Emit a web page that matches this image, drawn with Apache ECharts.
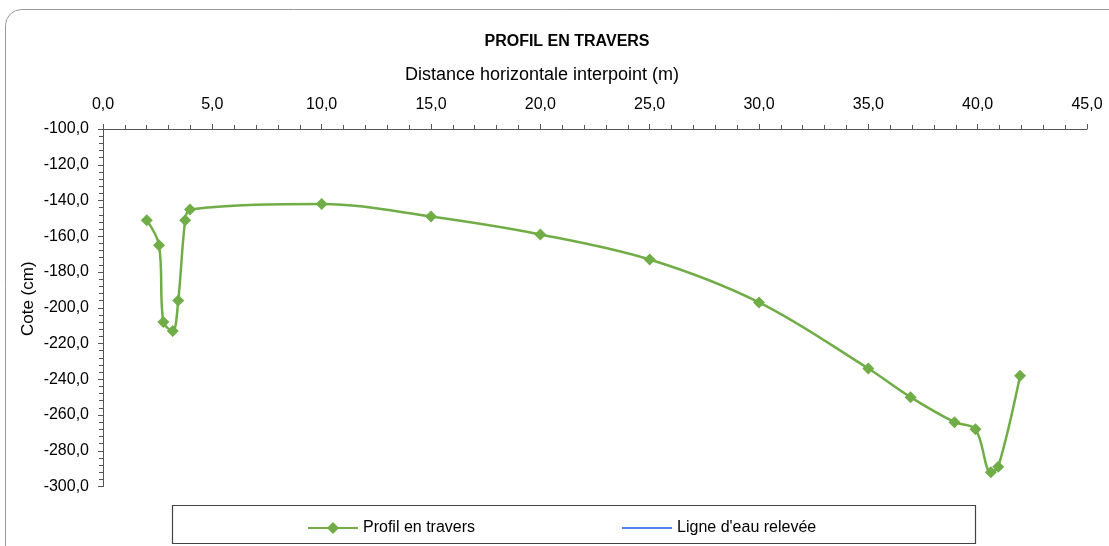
<!DOCTYPE html>
<html><head><meta charset="utf-8">
<script src="https://cdn.jsdelivr.net/npm/echarts@6/dist/echarts.min.js"></script>
<style>html,body{margin:0;padding:0;background:#fff}#c{width:1109px;height:546px}</style>
</head><body><div id="c"></div>
<script>
const distances = [2.0, 2.56, 2.76, 3.19, 3.44, 3.76, 3.98, 10.0, 15.0, 20.0, 25.0, 30.0, 35.0, 36.93, 38.94, 39.9, 40.6, 40.94, 41.94];
const cotes = [-151, -165, -208, -213, -196, -151, -145, -142, -149, -159, -173, -197, -234, -250, -264, -268, -292, -289, -238];
const ligneEau = [];
const seriesNames = ['Profil en travers', "Ligne d'eau relevée"];
const titleText = 'PROFIL EN TRAVERS';
const xName = 'Distance horizontale interpoint (m)';
const yName = 'Cote (cm)';

const font = 'Liberation Sans';
const chart = echarts.init(document.getElementById('c'));
chart.setOption({
  backgroundColor: '#fff',
  animation: false,
  textStyle: { fontFamily: font },
  title: { text: titleText, left: 562, textAlign: 'center', top: 29,
    textStyle: { fontSize: 16, fontWeight: 'bold', color: '#000', fontFamily: font } },
  graphic: [
    { type: 'rect', shape: { x: 5.5, y: 9.5, width: 1200, height: 700, r: 16 },
      style: { fill: 'none', stroke: '#9a9a9a', lineWidth: 1 }, silent: true, z: -1 },
    { type: 'rect', shape: { x: 172.5, y: 505.5, width: 803, height: 38 },
      style: { fill: 'none', stroke: '#444', lineWidth: 1.2 }, silent: true }
  ],
  legend: {
    left: 302, top: 515, itemWidth: 50, itemHeight: 15, itemGap: 146,
    textStyle: { fontSize: 16, color: '#000', fontFamily: font },
    data: [
      { name: seriesNames[0] },
      { name: seriesNames[1], itemStyle: { opacity: 0 } }
    ]
  },
  grid: { left: 103, right: 22, top: 129, bottom: 59.5, containLabel: false },
  xAxis: {
    type: 'value', position: 'top', min: 0, max: 45, interval: 5,
    name: xName, nameLocation: 'middle', nameGap: 45, nameMoveOverlap: false,
    nameTextStyle: { fontSize: 18, color: '#000', fontFamily: font, padding: [0, 106, 0, 0] },
    axisLine: { show: true, lineStyle: { color: '#555', width: 1 } },
    axisTick: { show: true, inside: false, length: 5, lineStyle: { color: '#555' } },
    minorTick: { show: true, splitNumber: 5, length: 4, lineStyle: { color: '#555' } },
    splitLine: { show: false },
    axisLabel: { fontSize: 16, color: '#000', margin: 16, fontFamily: font,
      formatter: v => v.toFixed(1).replace('.', ',') }
  },
  yAxis: {
    type: 'value', min: -300, max: -100, interval: 20,
    name: yName, nameLocation: 'middle', nameGap: 66, nameRotate: 90, nameMoveOverlap: false,
    nameTextStyle: { fontSize: 17, color: '#000', fontFamily: font, padding: [0, 0, 0, 18] },
    axisLine: { show: true, onZero: false, lineStyle: { color: '#555', width: 1 } },
    axisTick: { show: true, length: 5, lineStyle: { color: '#555' } },
    minorTick: { show: true, splitNumber: 5, length: 4, lineStyle: { color: '#555' } },
    splitLine: { show: false },
    axisLabel: { fontSize: 16, color: '#000', margin: 14, fontFamily: font,
      formatter: v => v.toFixed(1).replace('.', ',') }
  },
  series: [
    { name: seriesNames[0], type: 'line', smooth: 0.35,
      data: distances.map((d, i) => [d, cotes[i]]),
      symbol: 'diamond', symbolSize: 12,
      lineStyle: { color: '#70AD47', width: 2.5 },
      itemStyle: { color: '#70AD47' } },
    { name: seriesNames[1], type: 'line', data: ligneEau, symbol: 'none',
      lineStyle: { color: '#4F7FF5', width: 2.5 }, itemStyle: { color: '#4F7FF5' } }
  ]
});
</script></body></html>
